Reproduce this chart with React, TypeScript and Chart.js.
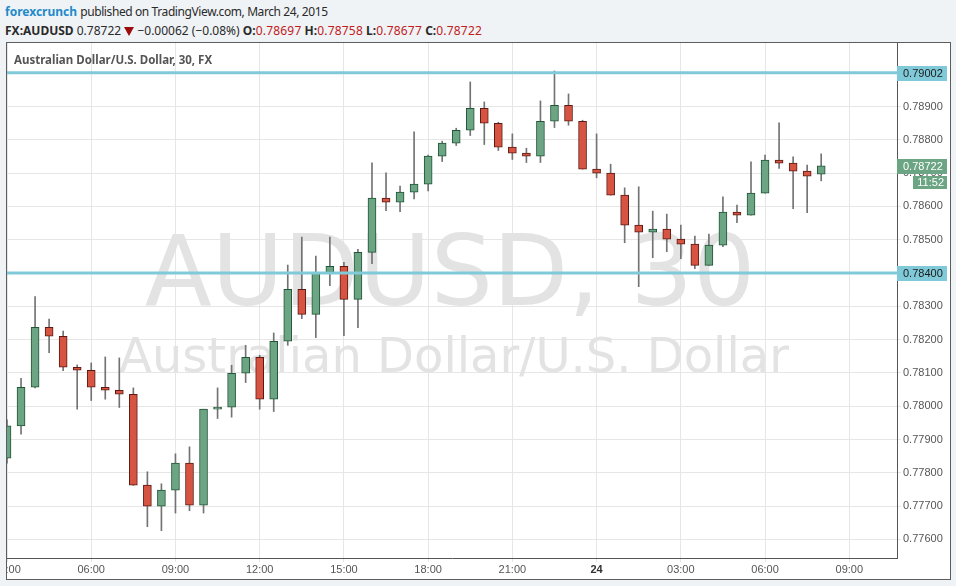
import React, { useEffect, useRef } from 'react';
import { Chart, registerables } from 'chart.js';

Chart.register(...registerables);

// 30-minute candles, starting 23 March 03:00
const candleOpen = [
  0.77844, 0.77941, 0.78057, 0.78237, 0.78210, 0.78117, 0.78108, 0.78057, 0.78048, 0.78036,
  0.77763, 0.77700, 0.77748, 0.77829, 0.77703, 0.77991, 0.77997, 0.78099, 0.78147, 0.78021,
  0.78195, 0.78351, 0.78276, 0.78402, 0.78420, 0.78321, 0.78462, 0.78625, 0.78613, 0.78643,
  0.78667, 0.78751, 0.78790, 0.78829, 0.78895, 0.78850, 0.78778, 0.78760, 0.78751, 0.78856,
  0.78904, 0.78856, 0.78712, 0.78700, 0.78634, 0.78544, 0.78523, 0.78532, 0.78502, 0.78487,
  0.78423, 0.78484, 0.78583, 0.78574, 0.78640, 0.78739, 0.78730, 0.78706, 0.78697,
];
const candleHigh = [
  0.77959, 0.78084, 0.78329, 0.78262, 0.78226, 0.78124, 0.78130, 0.78148, 0.78145, 0.78055,
  0.77803, 0.77767, 0.77857, 0.77878, 0.77991, 0.78055, 0.78123, 0.78183, 0.78153, 0.78220,
  0.78424, 0.78508, 0.78451, 0.78508, 0.78432, 0.78471, 0.78731, 0.78701, 0.78661, 0.78824,
  0.78754, 0.78796, 0.78835, 0.78974, 0.78914, 0.78853, 0.78818, 0.78775, 0.78917, 0.79007,
  0.78938, 0.78859, 0.78818, 0.78727, 0.78656, 0.78659, 0.78586, 0.78577, 0.78544, 0.78511,
  0.78517, 0.78629, 0.78604, 0.78734, 0.78754, 0.78851, 0.78749, 0.78724, 0.78758,
];
const candleLow = [
  0.77829, 0.77916, 0.78055, 0.78161, 0.78107, 0.77991, 0.78017, 0.78021, 0.77996, 0.77762,
  0.77638, 0.77626, 0.77679, 0.77686, 0.77679, 0.77963, 0.77967, 0.78071, 0.77991, 0.77984,
  0.78183, 0.78263, 0.78206, 0.78362, 0.78212, 0.78236, 0.78428, 0.78587, 0.78584, 0.78623,
  0.78647, 0.78735, 0.78783, 0.78813, 0.78786, 0.78768, 0.78741, 0.78732, 0.78732, 0.78837,
  0.78844, 0.78712, 0.78686, 0.78634, 0.78491, 0.78359, 0.78446, 0.78464, 0.78443, 0.78413,
  0.78423, 0.78479, 0.78551, 0.78574, 0.78640, 0.78714, 0.78593, 0.78581, 0.78677,
];
const candleClose = [
  0.77941, 0.78057, 0.78237, 0.78210, 0.78117, 0.78108, 0.78057, 0.78048, 0.78036, 0.77763,
  0.77700, 0.77748, 0.77829, 0.77703, 0.77991, 0.77997, 0.78099, 0.78147, 0.78021, 0.78195,
  0.78351, 0.78276, 0.78402, 0.78420, 0.78321, 0.78462, 0.78625, 0.78613, 0.78643, 0.78667,
  0.78751, 0.78790, 0.78829, 0.78895, 0.78850, 0.78778, 0.78760, 0.78751, 0.78856, 0.78904,
  0.78856, 0.78712, 0.78700, 0.78634, 0.78544, 0.78523, 0.78532, 0.78502, 0.78487, 0.78423,
  0.78484, 0.78583, 0.78574, 0.78640, 0.78739, 0.78730, 0.78706, 0.78691, 0.78722,
];

const xTickPositions = [0, 6, 12, 18, 24, 30, 36, 42, 48, 54, 60];
const xTickLabels = ['03:00', '06:00', '09:00', '12:00', '15:00', '18:00', '21:00', '24', '03:00', '06:00', '09:00'];
const yTickValues = [
  0.776, 0.777, 0.778, 0.779, 0.78, 0.781, 0.782, 0.783, 0.784, 0.785, 0.786, 0.787, 0.788, 0.789, 0.79,
];
const levelLines = [0.79002, 0.784];
const lastPrice = 0.78722;
const lastTimeLabel = '11:52';
const xRange = [0, 63.4];
const yRange = [0.77544, 0.79091];

const GREEN = '#6ba583';
const GREEN_EDGE = '#225437';
const RED = '#d75442';
const RED_EDGE = '#5b1a13';
const WICK = '#737375';
const TEAL = '#80c9d8';
const AXIS_FONT = '"Liberation Sans", Arial, sans-serif';

export default function App() {
  const canvasRef = useRef<HTMLCanvasElement>(null);

  useEffect(() => {
    const canvas = canvasRef.current;
    if (!canvas) return;
    const idx = candleOpen.map((_, i) => i);
    const up = idx.map((i) => candleClose[i] >= candleOpen[i]);
    const bodies = idx.map((i) => ({ x: i, y: [candleOpen[i], candleClose[i]] }));
    const wicks = idx.map((i) => ({ x: i, y: [candleLow[i], candleHigh[i]] }));

    const overlay = {
      id: 'overlay',
      beforeDatasetsDraw(chart: any) {
        const { ctx, chartArea: a } = chart;
        ctx.save();
        ctx.beginPath();
        ctx.rect(a.left, a.top, a.right - a.left, a.bottom - a.top);
        ctx.clip();
        ctx.fillStyle = '#e3e3e3';
        ctx.textAlign = 'center';
        ctx.textBaseline = 'alphabetic';
        const cx = (a.left + a.right) / 2;
        ctx.font = '98px "DejaVu Sans"';
        ctx.fillText('AUDUSD, 30', cx - 2, a.top + 262);
        ctx.font = '48px "DejaVu Sans"';
        ctx.fillText('Australian Dollar/U.S. Dollar', cx + 2, a.top + 329);
        ctx.restore();
      },
      afterDatasetsDraw(chart: any) {
        const { ctx, chartArea: a } = chart;
        ctx.save();
        ctx.fillStyle = '#555555';
        ctx.font = 'bold 11.5px "Noto Sans"';
        ctx.textAlign = 'left';
        ctx.textBaseline = 'middle';
        ctx.fillText('Australian Dollar/U.S. Dollar, 30, FX', a.left + 7, a.top + 18);
        ctx.restore();
      },
      afterDraw(chart: any) {
        const { ctx } = chart;
        const ys = chart.scales.y;
        ctx.save();
        ctx.font = '11px ' + AXIS_FONT;
        ctx.textBaseline = 'middle';
        const box = (val: number, bg: string, fg: string) => {
          const py = Math.round(ys.getPixelForValue(val));
          ctx.fillStyle = bg;
          ctx.fillRect(ys.left, py - 7, 50, 15);
          ctx.fillStyle = fg;
          ctx.textAlign = 'left';
          ctx.fillText(val.toFixed(5), ys.left + 6, py + 1);
          return py;
        };
        levelLines.forEach((v) => box(v, TEAL, '#1b1b1b'));
        const py = box(lastPrice, GREEN, '#ffffff');
        ctx.fillStyle = GREEN;
        ctx.fillRect(ys.left + 16, py + 10, 34, 13);
        ctx.fillStyle = '#ffffff';
        ctx.textAlign = 'right';
        ctx.fillText(lastTimeLabel, ys.left + 47, py + 17);
        ctx.restore();
      },
    };

    const chart = new Chart(canvas, {
      type: 'bar',
      data: {
        datasets: [
          ...levelLines.map((v) => ({
            type: 'line' as const,
            data: [
              { x: xRange[0], y: v },
              { x: xRange[1], y: v },
            ],
            borderColor: TEAL,
            borderWidth: 3,
            pointRadius: 0,
            order: -1,
          })),
          {
            type: 'bar' as const,
            data: bodies as any,
            backgroundColor: idx.map((i) => (up[i] ? GREEN : RED)),
            borderColor: idx.map((i) => (up[i] ? GREEN_EDGE : RED_EDGE)),
            borderWidth: 1,
            borderSkipped: false,
            barThickness: 8,
            grouped: false,
            order: 0,
          },
          {
            type: 'bar' as const,
            data: wicks as any,
            backgroundColor: WICK,
            borderWidth: 0,
            barThickness: 1,
            grouped: false,
            order: 1,
          },
        ],
      },
      options: {
        animation: false,
        responsive: false,
        devicePixelRatio: 1,
        layout: { padding: 0 },
        plugins: { legend: { display: false }, tooltip: { enabled: false } },
        scales: {
          x: {
            type: 'linear',
            offset: false,
            min: xRange[0],
            max: xRange[1],
            grid: { color: '#e6e6e6', tickLength: 4, drawTicks: true, offset: false },
            border: { color: '#555555', width: 1 },
            afterBuildTicks: (s: any) => {
              s.ticks = xTickPositions.map((v) => ({ value: v }));
            },
            afterFit: (s: any) => {
              s.height = 21;
              s.paddingLeft = 0;
              s.paddingRight = 0;
            },
            ticks: {
              autoSkip: false,
              maxRotation: 0,
              padding: 1,
              callback: (_v: any, i: number) => xTickLabels[i],
              color: (c: any) => (c.tick && c.tick.label === '24' ? '#333333' : '#555555'),
              font: (c: any) => ({
                family: AXIS_FONT,
                size: 11,
                weight: c.tick && c.tick.label === '24' ? 'bold' : 'normal',
              }),
            },
          },
          y: {
            type: 'linear',
            position: 'right',
            min: yRange[0],
            max: yRange[1],
            grid: { color: '#e6e6e6', tickLength: 4, drawTicks: true },
            border: { color: '#555555', width: 1 },
            afterBuildTicks: (s: any) => {
              s.ticks = yTickValues.map((v) => ({ value: v }));
            },
            afterFit: (s: any) => {
              s.width = 53;
              s.paddingTop = 0;
              s.paddingBottom = 0;
            },
            ticks: {
              padding: 2,
              color: '#555555',
              font: { family: AXIS_FONT, size: 11 },
              callback: (v: any) => Number(v).toFixed(5),
            },
          },
        },
      } as any,
      plugins: [overlay],
    });
    return () => chart.destroy();
  }, []);

  const red = { color: '#c0201c', letterSpacing: '0.2px' };
  return (
    <div
      style={{
        position: 'absolute',
        left: 0,
        top: 0,
        width: 956,
        height: 586,
        background: '#f0f3f6',
        overflow: 'hidden',
        fontFamily: '"Noto Sans", sans-serif',
      }}
    >
      <div style={{ position: 'absolute', left: 5, top: 3, fontSize: 12, color: '#2a2a2a', whiteSpace: 'nowrap' }}>
        <span style={{ color: '#1f8ac9', fontWeight: 'bold' }}>forexcrunch</span>{' '}
        <span style={{ letterSpacing: '-0.4px' }}>published on TradingView.com, March 24, 2015</span>
      </div>
      <div style={{ position: 'absolute', left: 5, top: 22, fontSize: 12, color: '#2a2a2a', whiteSpace: 'nowrap' }}>
        <b>FX:AUDUSD</b> 0.78722{' '}
        <span
          style={{
            display: 'inline-block',
            width: 0,
            height: 0,
            borderLeft: '5px solid transparent',
            borderRight: '5px solid transparent',
            borderTop: '9px solid #9b0d0d',
            verticalAlign: '-1px',
          }}
        />{' '}
        −0.00062 (−0.08%) <b>O:</b>
        <span style={red}>0.78697</span> <b>H:</b>
        <span style={red}>0.78758</span> <b>L:</b>
        <span style={red}>0.78677</span> <b>C:</b>
        <span style={red}>0.78722</span>
      </div>
      <div
        style={{
          position: 'absolute',
          left: 6,
          top: 42,
          width: 943,
          height: 536,
          border: '1px solid #5d5d5d',
          background: '#ffffff',
        }}
      >
        <canvas ref={canvasRef} width={943} height={536} style={{ display: 'block', width: 943, height: 536 }} />
      </div>
    </div>
  );
}
